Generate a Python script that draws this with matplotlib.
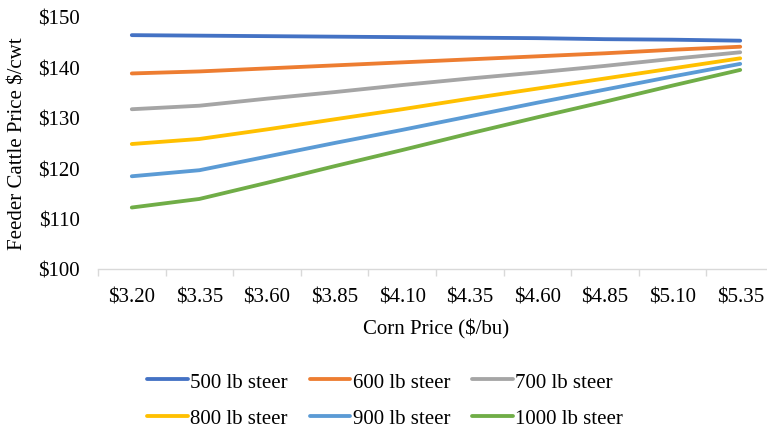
import matplotlib
matplotlib.use("Agg")
import matplotlib.pyplot as plt
from matplotlib.ticker import FixedLocator

plt.rcParams['font.family'] = ['Liberation Serif', 'DejaVu Serif']

corn_prices = ["$3.20", "$3.35", "$3.60", "$3.85", "$4.10",
               "$4.35", "$4.60", "$4.85", "$5.10", "$5.35"]

steer_500 = [146.4, 146.3, 146.2, 146.1, 146.0, 145.9, 145.8, 145.6, 145.5, 145.3]
steer_600 = [138.8, 139.2, 139.8, 140.4, 141.0, 141.6, 142.2, 142.8, 143.5, 144.1]
steer_700 = [131.7, 132.4, 133.8, 135.1, 136.5, 137.8, 139.0, 140.3, 141.7, 143.0]
steer_800 = [124.8, 125.8, 127.7, 129.7, 131.7, 133.8, 135.8, 137.8, 139.8, 141.8]
steer_900 = [118.4, 119.6, 122.3, 125.0, 127.6, 130.3, 133.0, 135.6, 138.2, 140.7]
steer_1000 = [112.2, 113.9, 117.1, 120.4, 123.6, 126.9, 130.1, 133.2, 136.4, 139.5]

series_labels = ["500 lb steer", "600 lb steer", "700 lb steer",
                 "800 lb steer", "900 lb steer", "1000 lb steer"]
series_values = [steer_500, steer_600, steer_700, steer_800, steer_900, steer_1000]
colors = ["#4472C4", "#ED7D31", "#A5A5A5", "#FFC000", "#5B9BD5", "#70AD47"]

y_ticks = [100, 110, 120, 130, 140, 150]

FS = 15

fig = plt.figure(figsize=(7.67, 4.31), dpi=100)
ax = fig.add_axes([98 / 767, 1 - 270 / 431, 676 / 767, 252 / 431])

x = list(range(len(corn_prices)))
handles = []
for label, vals, c in zip(series_labels, series_values, colors):
    h, = ax.plot(x, vals, color=c, linewidth=2.75, solid_capstyle='round', label=label)
    handles.append(h)

ax.set_xlim(-0.5, len(corn_prices) - 0.5)
ax.set_ylim(100, 150)
ax.set_yticks(y_ticks)
ax.set_yticklabels([f"${v}" for v in y_ticks])
ax.set_xticks(x)
ax.set_xticklabels(corn_prices)
ax.xaxis.set_minor_locator(FixedLocator([i - 0.5 for i in range(len(corn_prices) + 1)]))

for s in ["top", "right", "left"]:
    ax.spines[s].set_visible(False)
ax.spines["bottom"].set_color("#D9D9D9")
ax.spines["bottom"].set_linewidth(1.0)

ax.tick_params(axis='x', which='major', length=0, pad=13.5, labelsize=FS, colors='#000000')
ax.tick_params(axis='x', which='minor', length=5, color='#D9D9D9', width=1.0)
ax.tick_params(axis='y', length=0, pad=13, labelsize=FS)

ax.set_xlabel("Corn Price ($/bu)", fontsize=FS, labelpad=8.5)
ax.set_ylabel("Feeder Cattle Price $/cwt", fontsize=FS, labelpad=7.5)

order = [0, 3, 1, 4, 2, 5]
leg = fig.legend([handles[i] for i in order], [series_labels[i] for i in order],
                 ncol=3, loc='center', bbox_to_anchor=(385 / 767, 1 - 401 / 431),
                 frameon=False, fontsize=FS, handlelength=1.95, handletextpad=0.12,
                 columnspacing=1.05, labelspacing=0.8, borderpad=0)

fig.savefig("out.png", dpi=100)
